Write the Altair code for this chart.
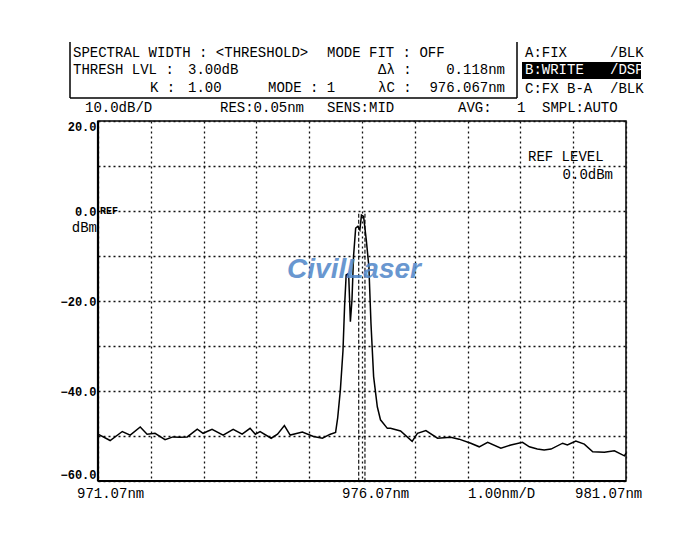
import altair as alt
import pandas as pd

# ---------------- data ----------------
wavelength_nm = [
    971.07, 971.30, 971.53, 971.68, 971.87, 972.00, 972.15, 972.34, 972.49, 972.62,
    972.76, 972.95, 973.06, 973.23, 973.44, 973.63, 973.80, 973.95, 974.05, 974.14,
    974.35, 974.47, 974.60, 974.71, 974.94, 975.15, 975.32, 975.47, 975.57, 975.61,
    975.66, 975.71, 975.74, 975.77, 975.80, 975.82, 975.85, 975.88, 975.91, 975.95,
    975.99, 976.03, 976.06, 976.10, 976.15, 976.20, 976.24, 976.29, 976.36, 976.42,
    976.55, 976.61, 976.80, 977.02, 977.12, 977.28, 977.50, 977.75, 977.91, 978.13,
    978.29, 978.45, 978.70, 978.89, 979.11, 979.24, 979.39, 979.52, 979.65, 979.87,
    979.96, 980.12, 980.28, 980.44, 980.66, 980.85, 981.04, 981.07,
]
level_dbm = [
    -49.6, -51.0, -49.0, -49.8, -48.0, -49.6, -49.4, -50.8, -50.2, -50.3,
    -50.2, -48.5, -49.4, -48.5, -49.8, -48.5, -49.6, -48.3, -49.6, -49.0,
    -50.5, -49.6, -47.7, -49.8, -49.1, -50.1, -50.5, -49.6, -49.2, -45.9,
    -39.8, -31.0, -21.2, -14.2, -14.0, -14.9, -24.6, -19.8, -10.0, -3.8,
    -3.4, -4.2, -0.9, -1.2, -6.3, -12.3, -25.0, -36.8, -43.5, -46.4,
    -48.3, -48.3, -48.9, -51.2, -49.4, -48.8, -50.5, -50.3, -50.7, -51.6,
    -52.4, -51.4, -52.7, -52.0, -51.4, -52.4, -52.9, -53.1, -52.9, -51.6,
    -52.0, -51.1, -51.8, -53.5, -53.6, -53.3, -54.4, -53.8,
]
marker_nm = [976.008, 976.126]
x_ticks = [971.07, 972.07, 973.07, 974.07, 975.07, 976.07, 977.07, 978.07, 979.07, 980.07, 981.07]
y_ticks = [20, 10, 0, -10, -20, -30, -40, -50, -60]

header_left = [
    ("SPECTRAL WIDTH : <THRESHOLD>", 73, 53),
    ("MODE FIT : OFF", 327, 53),
    ("THRESH LVL :", 73, 70),
    ("3.00dB", 188, 70),
    ("K :", 150, 88),
    ("1.00", 188, 88),
    ("MODE : 1", 268, 88),
    ("Δλ :", 378, 70),
    ("λC :", 378, 88),
    ("A:FIX", 525, 53),
    ("/BLK", 610, 53),
    ("C:FX B-A", 525, 89),
    ("/BLK", 610, 89),
    ("10.0dB/D", 85, 108),
    ("RES:0.05nm", 220, 108),
    ("SENS:MID", 327, 108),
    ("AVG:", 458, 108),
    ("1", 517, 108),
    ("SMPL:AUTO", 542, 108),
    ("REF LEVEL", 528, 157),
    ("971.07nm", 77, 494),
    ("976.07nm", 342, 494),
    ("1.00nm/D", 468, 494),
    ("981.07nm", 575, 494),
]
header_right = [
    ("0.118nm", 505, 70),
    ("976.067nm", 505, 88),
    ("0.0dBm", 613, 175),
    ("dBm", 97, 228),
]
header_inverse = [("B:WRITE", 525, 70), ("/DSP", 610, 70)]

# ---------------- layout ----------------
OX, OY = 98, 121          # page position of plot origin
W, H = 528, 360
FONT = "Liberation Mono"

spec = pd.DataFrame({"wl": wavelength_nm, "db": level_dbm})
mk = pd.DataFrame({"wl": marker_nm, "top": [-0.6, -0.6], "bot": [-60, -60]})

xscale = alt.Scale(domain=[971.07, 981.07], nice=False, zero=False)
yscale = alt.Scale(domain=[-60, 20], nice=False, zero=False)

grid_axis_common = dict(
    grid=True, gridColor="#111", gridDash=[2, 3], gridWidth=1.3,
    ticks=False, domain=False,
)

line = alt.Chart(spec).mark_line(color="black", strokeWidth=1.5, interpolate="linear").encode(
    x=alt.X("wl:Q", scale=xscale,
            axis=alt.Axis(values=x_ticks, labels=False, title=None, **grid_axis_common)),
    y=alt.Y("db:Q", scale=yscale,
            axis=alt.Axis(values=y_ticks, title=None, labelFont=FONT, labelFontSize=12,
                          labelColor="black", labelPadding=2, labelFlush=True,
                          labelFontWeight="bold",
                          labelExpr="datum.value % 20 == 0 ? format(datum.value, '.1f') : ''",
                          **grid_axis_common)),
)

markers = alt.Chart(mk).mark_rule(color="black", strokeWidth=1.1, strokeDash=[4, 2]).encode(
    x="wl:Q", y="top:Q", y2="bot:Q",
)


def at(px, py):
    return dict(x=alt.value(px - OX), y=alt.value(py - OY))


def txt(s, px, py, align="left", color="black", size=14, weight="normal", font=FONT,
        style="normal", opacity=1.0):
    return alt.Chart(pd.DataFrame({"t": [s]})).mark_text(
        align=align, baseline="middle", font=font, fontSize=size, color=color,
        fontWeight=weight, fontStyle=style, opacity=opacity,
    ).encode(text="t:N", **at(px, py))


def rule(x1, y1, x2, y2, width=1.5):
    return alt.Chart(pd.DataFrame({"a": [0]})).mark_rule(color="black", strokeWidth=width).encode(
        x=alt.value(x1 - OX), x2=alt.value(x2 - OX), y=alt.value(y1 - OY), y2=alt.value(y2 - OY)
    )


layers = [line, markers]

# header box lines
layers += [rule(70, 42, 70, 98), rule(70, 98, 517, 98), rule(517, 42, 517, 98)]
# thicker left/bottom plot border
layers += [rule(OX, OY, OX, OY + H, 2.2), rule(OX, OY + H, OX + W, OY + H, 2.2)]

# inverse highlight
layers.append(
    alt.Chart(pd.DataFrame({"a": [0]})).mark_rect(color="black").encode(
        x=alt.value(522 - OX), x2=alt.value(641 - OX), y=alt.value(62 - OY), y2=alt.value(79 - OY)
    )
)

for s, px, py in header_left:
    layers.append(txt(s, px, py))
for s, px, py in header_right:
    layers.append(txt(s, px, py, align="right"))
for s, px, py in header_inverse:
    layers.append(txt(s, px, py, color="white"))

layers.append(txt("REF", 100, 211, size=10, weight="bold"))

# watermark
layers.append(txt("CivilLaser", 354, 270, align="center", color="#4f86c8", size=28,
                  weight="bold", font="Liberation Sans", style="italic", opacity=0.85))

chart = alt.layer(*layers).properties(
    width=W, height=H,
    autosize=alt.AutoSizeParams(type="none"),
    padding={"left": OX - 8, "top": OY - 8, "right": 60, "bottom": 45},
    background="white",
).configure_view(stroke="black", strokeWidth=1.5)

chart.save("out.html", embed_options={"renderer": "svg", "actions": False})
